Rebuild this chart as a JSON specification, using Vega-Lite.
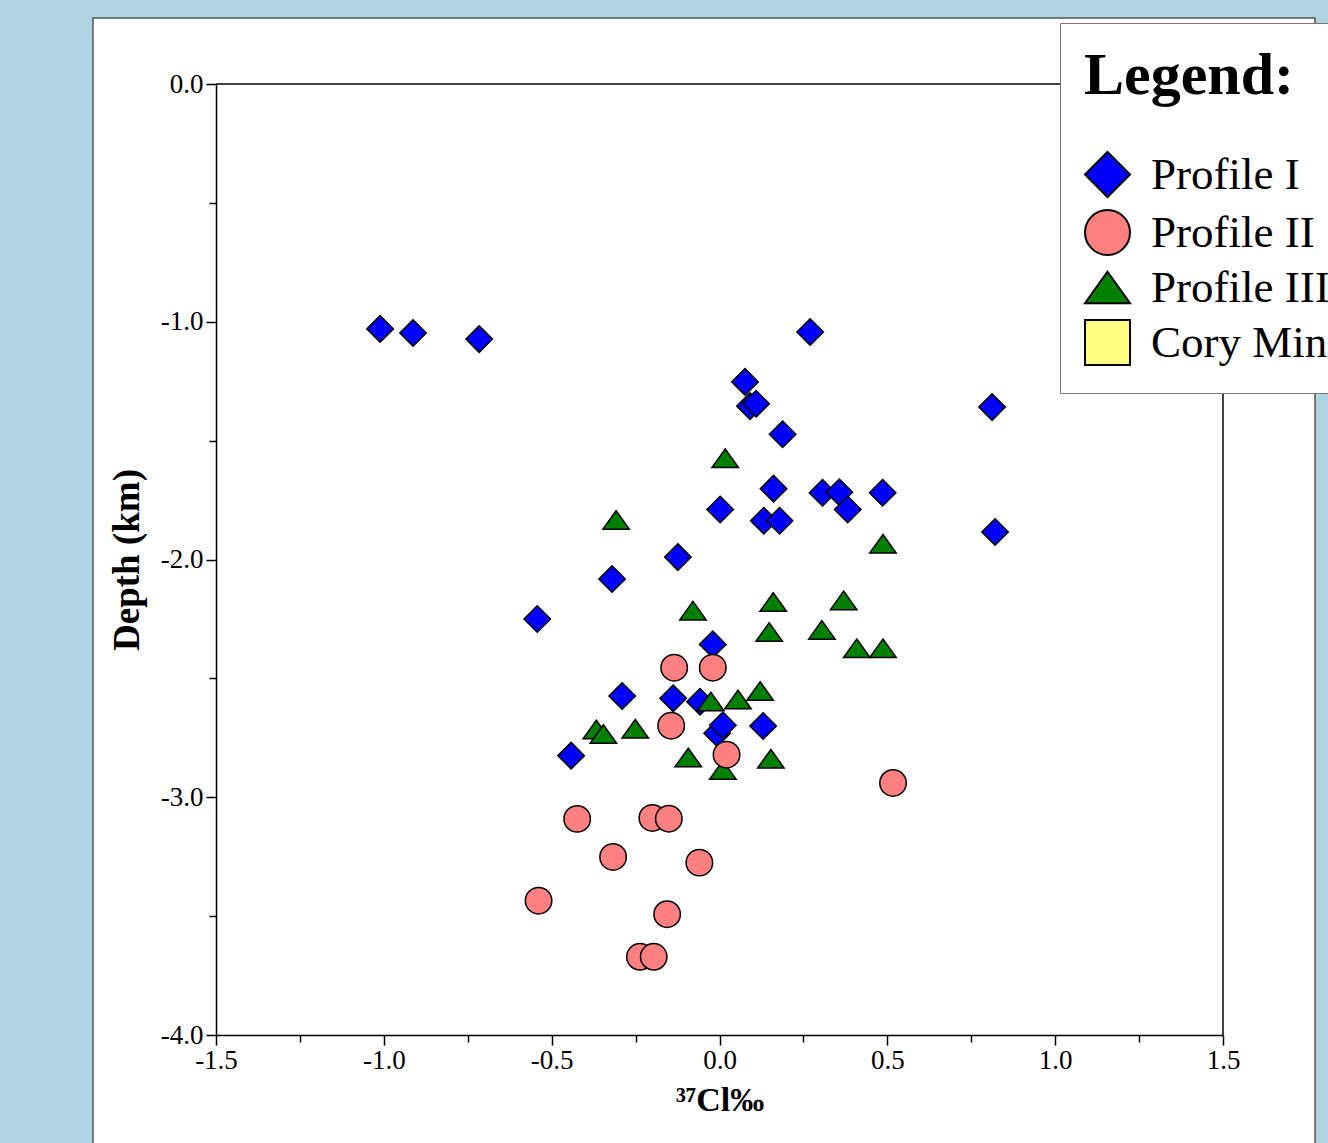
{
  "$schema": "https://vega.github.io/schema/vega-lite/v6.json",
  "width": 1007,
  "height": 951,
  "autosize": {"type": "none"},
  "padding": {"left": 216, "top": 84, "right": 105, "bottom": 108},
  "background": "#AED4E3",
  "config": {
    "view": {"fill": "white", "stroke": "black", "strokeWidth": 1.5},
    "font": "Liberation Serif"
  },
  "layer": [
    {
      "data": {"values": [{"panel": "frame"}]},
      "mark": {"type": "rect", "fill": "white", "stroke": "#555555", "strokeWidth": 1.5},
      "encoding": {
        "x": {"datum": -1.8664, "type": "quantitative", "scale": {"domain": [-1.5, 1.5], "nice": false, "zero": false}},
        "x2": {"datum": 1.7741},
        "y": {"datum": 0.2776, "type": "quantitative", "scale": {"domain": [-4, 0], "nice": false, "zero": false}},
        "y2": {"datum": -4.6}
      }
    },
    {
      "data": {"values": [{"edge": "top"}]},
      "mark": {"type": "rule", "stroke": "black", "strokeWidth": 1.5},
      "encoding": {
        "x": {"datum": -1.5, "type": "quantitative"},
        "x2": {"datum": 1.5},
        "y": {"datum": 0, "type": "quantitative"}
      }
    },
    {
      "data": {"values": [{"edge": "right"}]},
      "mark": {"type": "rule", "stroke": "black", "strokeWidth": 1.5},
      "encoding": {
        "x": {"datum": 1.5, "type": "quantitative"},
        "y": {"datum": -4, "type": "quantitative"},
        "y2": {"datum": 0}
      }
    },
    {
      "data": {
        "values": [
          {"profile": "Profile I", "cl": -1.011, "depth": -1.030},
          {"profile": "Profile I", "cl": -0.913, "depth": -1.047},
          {"profile": "Profile I", "cl": -0.716, "depth": -1.073},
          {"profile": "Profile I", "cl": 0.270, "depth": -1.043},
          {"profile": "Profile I", "cl": 0.076, "depth": -1.253},
          {"profile": "Profile I", "cl": 0.091, "depth": -1.355},
          {"profile": "Profile I", "cl": 0.109, "depth": -1.345},
          {"profile": "Profile I", "cl": 0.188, "depth": -1.473},
          {"profile": "Profile I", "cl": 0.161, "depth": -1.702},
          {"profile": "Profile I", "cl": 0.002, "depth": -1.790},
          {"profile": "Profile I", "cl": 0.132, "depth": -1.837},
          {"profile": "Profile I", "cl": 0.179, "depth": -1.837},
          {"profile": "Profile I", "cl": 0.307, "depth": -1.719},
          {"profile": "Profile I", "cl": 0.357, "depth": -1.717},
          {"profile": "Profile I", "cl": 0.382, "depth": -1.790},
          {"profile": "Profile I", "cl": 0.486, "depth": -1.719},
          {"profile": "Profile I", "cl": 0.812, "depth": -1.359},
          {"profile": "Profile I", "cl": 0.821, "depth": -1.884},
          {"profile": "Profile I", "cl": -0.124, "depth": -1.990},
          {"profile": "Profile I", "cl": -0.320, "depth": -2.082},
          {"profile": "Profile I", "cl": -0.543, "depth": -2.250},
          {"profile": "Profile I", "cl": -0.020, "depth": -2.357},
          {"profile": "Profile I", "cl": -0.290, "depth": -2.574},
          {"profile": "Profile I", "cl": -0.138, "depth": -2.584},
          {"profile": "Profile I", "cl": -0.058, "depth": -2.598},
          {"profile": "Profile I", "cl": -0.007, "depth": -2.731},
          {"profile": "Profile I", "cl": 0.010, "depth": -2.697},
          {"profile": "Profile I", "cl": 0.130, "depth": -2.700},
          {"profile": "Profile I", "cl": -0.442, "depth": -2.825},
          {"profile": "Profile III", "cl": 0.017, "depth": -1.574},
          {"profile": "Profile III", "cl": -0.308, "depth": -1.834},
          {"profile": "Profile III", "cl": 0.487, "depth": -1.934},
          {"profile": "Profile III", "cl": -0.079, "depth": -2.215},
          {"profile": "Profile III", "cl": 0.160, "depth": -2.179},
          {"profile": "Profile III", "cl": 0.370, "depth": -2.172},
          {"profile": "Profile III", "cl": 0.148, "depth": -2.305},
          {"profile": "Profile III", "cl": 0.305, "depth": -2.296},
          {"profile": "Profile III", "cl": 0.409, "depth": -2.373},
          {"profile": "Profile III", "cl": 0.487, "depth": -2.373},
          {"profile": "Profile III", "cl": 0.121, "depth": -2.553},
          {"profile": "Profile III", "cl": -0.026, "depth": -2.597},
          {"profile": "Profile III", "cl": 0.055, "depth": -2.589},
          {"profile": "Profile III", "cl": -0.367, "depth": -2.715},
          {"profile": "Profile III", "cl": -0.346, "depth": -2.734},
          {"profile": "Profile III", "cl": -0.251, "depth": -2.712},
          {"profile": "Profile III", "cl": -0.093, "depth": -2.833},
          {"profile": "Profile III", "cl": 0.010, "depth": -2.885},
          {"profile": "Profile III", "cl": 0.153, "depth": -2.838},
          {"profile": "Profile II", "cl": -0.135, "depth": -2.455},
          {"profile": "Profile II", "cl": -0.020, "depth": -2.455},
          {"profile": "Profile II", "cl": -0.144, "depth": -2.699},
          {"profile": "Profile II", "cl": 0.021, "depth": -2.821},
          {"profile": "Profile II", "cl": 0.517, "depth": -2.940},
          {"profile": "Profile II", "cl": -0.424, "depth": -3.091},
          {"profile": "Profile II", "cl": -0.200, "depth": -3.087},
          {"profile": "Profile II", "cl": -0.151, "depth": -3.090},
          {"profile": "Profile II", "cl": -0.317, "depth": -3.251},
          {"profile": "Profile II", "cl": -0.060, "depth": -3.275},
          {"profile": "Profile II", "cl": -0.539, "depth": -3.435},
          {"profile": "Profile II", "cl": -0.156, "depth": -3.492},
          {"profile": "Profile II", "cl": -0.237, "depth": -3.671},
          {"profile": "Profile II", "cl": -0.196, "depth": -3.671}
        ]
      },
      "mark": {"type": "point", "filled": true, "size": 700, "stroke": "black", "strokeWidth": 1.5, "opacity": 1},
      "encoding": {
        "x": {
          "field": "cl", "type": "quantitative",
          "scale": {"domain": [-1.5, 1.5], "nice": false, "zero": false},
          "axis": {
            "title": "³⁷Cl‰",
            "values": [-1.5, -1.25, -1.0, -0.75, -0.5, -0.25, 0, 0.25, 0.5, 0.75, 1.0, 1.25, 1.5],
            "labelExpr": "abs(datum.value*2 - round(datum.value*2)) < 0.001 ? replace(format(datum.value, '.1f'), '\u2212', '-') : ''",
            "tickSize": {"condition": {"test": "abs(datum.value*2 - round(datum.value*2)) < 0.001", "value": 10}, "value": 7},
            "labelFlush": false, "labelOverlap": false,
            "grid": false, "zindex": 1,
            "domainColor": "black", "domainWidth": 1.5, "tickColor": "black", "tickWidth": 1.5,
            "labelFont": "Liberation Serif", "labelFontSize": 27, "labelColor": "black", "labelPadding": 2,
            "titleFont": "Liberation Serif", "titleFontSize": 34, "titleFontWeight": "bold", "titleColor": "black", "titlePadding": 10
          }
        },
        "y": {
          "field": "depth", "type": "quantitative",
          "scale": {"domain": [-4, 0], "nice": false, "zero": false},
          "axis": {
            "title": "Depth (km)",
            "values": [0, -0.5, -1, -1.5, -2, -2.5, -3, -3.5, -4],
            "labelExpr": "abs(datum.value - round(datum.value)) < 0.001 ? replace(format(datum.value, '.1f'), '\u2212', '-') : ''",
            "tickSize": {"condition": {"test": "abs(datum.value - round(datum.value)) < 0.001", "value": 10}, "value": 7},
            "labelFlush": false, "labelOverlap": false,
            "grid": false, "zindex": 1,
            "domainColor": "black", "domainWidth": 1.5, "tickColor": "black", "tickWidth": 1.5,
            "labelFont": "Liberation Serif", "labelFontSize": 27, "labelColor": "black", "labelPadding": 3,
            "titleFont": "Liberation Serif", "titleFontSize": 37, "titleFontWeight": "bold", "titleColor": "black", "titlePadding": 14
          }
        },
        "color": {
          "field": "profile", "type": "nominal", "title": "Legend:",
          "scale": {"domain": ["Profile I", "Profile II", "Profile III", "Cory Mine"], "range": ["#0000FF", "#FF8080", "#008000", "#FFFF80"]},
          "legend": {
            "orient": "none", "legendX": 844, "legendY": -61,
            "fillColor": "white", "strokeColor": "#777777", "padding": 24,
            "titleFont": "Liberation Serif", "titleFontSize": 60, "titleFontWeight": "bold", "titleColor": "black", "titlePadding": 44, "titleLimit": 1000,
            "labelFont": "Liberation Serif", "labelFontSize": 45, "labelColor": "black", "labelLimit": 1000, "labelOffset": 20,
            "symbolSize": 2025, "symbolStrokeColor": "black", "symbolStrokeWidth": 2, "symbolOpacity": 1, "rowPadding": 5
          }
        },
        "shape": {
          "field": "profile", "type": "nominal", "title": "Legend:",
          "scale": {"domain": ["Profile I", "Profile II", "Profile III", "Cory Mine"], "range": ["diamond", "circle", "M0,-0.7L1,0.7L-1,0.7Z", "square"]}
        }
      }
    }
  ]
}
